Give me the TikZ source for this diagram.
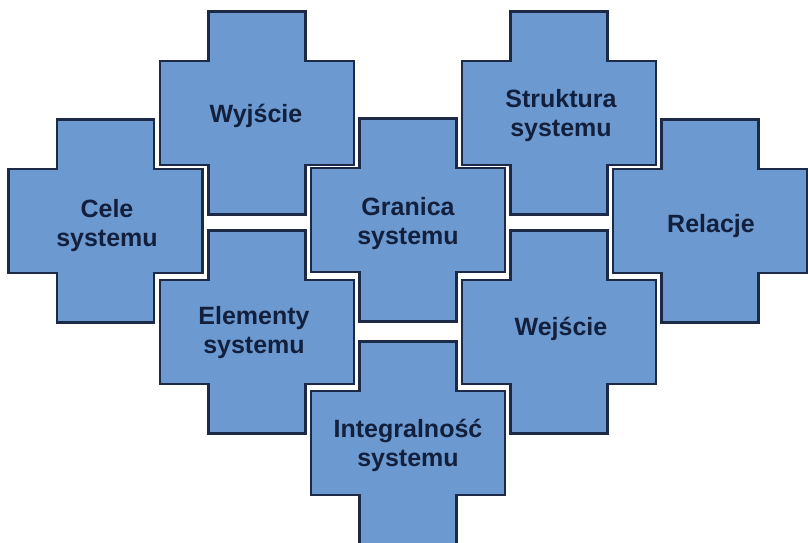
\documentclass[tikz,border=0pt]{standalone}
\usepackage{fontspec}
\newfontfamily\tilefont{Liberation Sans}
\definecolor{tilefill}{RGB}{108,153,207}
\definecolor{tileedge}{RGB}{28,42,72}
\definecolor{tiletext}{RGB}{18,32,62}
\tikzset{
  x=1pt, y=-1pt,
  tilestyle/.style={fill=tilefill, draw=tileedge, line width=2.4pt, line join=miter},
  tilelabel/.style={align=center, text=tiletext, inner sep=0pt,
    font=\tilefont\bfseries\fontsize{25}{29}\selectfont},
  % plus-shaped tile: narrow vertical bar crossed by a wide band
  plustile/.pic={
    \path[tilestyle] (-48.5,-101.5) -- (48.5,-101.5) -- (48.5,-52) -- (97,-52)
      -- (97,52) -- (48.5,52) -- (48.5,101.5) -- (-48.5,101.5) -- (-48.5,52)
      -- (-97,52) -- (-97,-52) -- (-48.5,-52) -- cycle;
  }
}
\begin{document}
\begin{tikzpicture}
\useasboundingbox (0,0) rectangle (808,543);
\fill[white] (0,0) rectangle (808,543);
\clip (0,0) rectangle (808,543);

% tiles
\pic at (257,113) {plustile};
\pic at (559,113) {plustile};
\pic at (105.5,221) {plustile};
\pic at (408,220) {plustile};
\pic at (710,221) {plustile};
\pic at (257,332) {plustile};
\pic at (559,332) {plustile};
\pic at (408,443) {plustile};

% labels
\node[tilelabel] (wyjscie)   at (256,115.5) {Wyjście};
\node[tilelabel] (struktura) at (561,116)   {Struktura\\systemu};
\node[tilelabel] (cele)      at (107,226)   {Cele\\systemu};
\node[tilelabel] (granica)   at (408,224)   {Granica\\systemu};
\node[tilelabel] (relacje)   at (711,226)   {Relacje};
\node[tilelabel] (elementy)  at (254,333)   {Elementy\\systemu};
\node[tilelabel] (wejscie)   at (561,329)   {Wejście};
\node[tilelabel] (integral)  at (408,445)   {Integralność\\systemu};
\end{tikzpicture}
\end{document}
